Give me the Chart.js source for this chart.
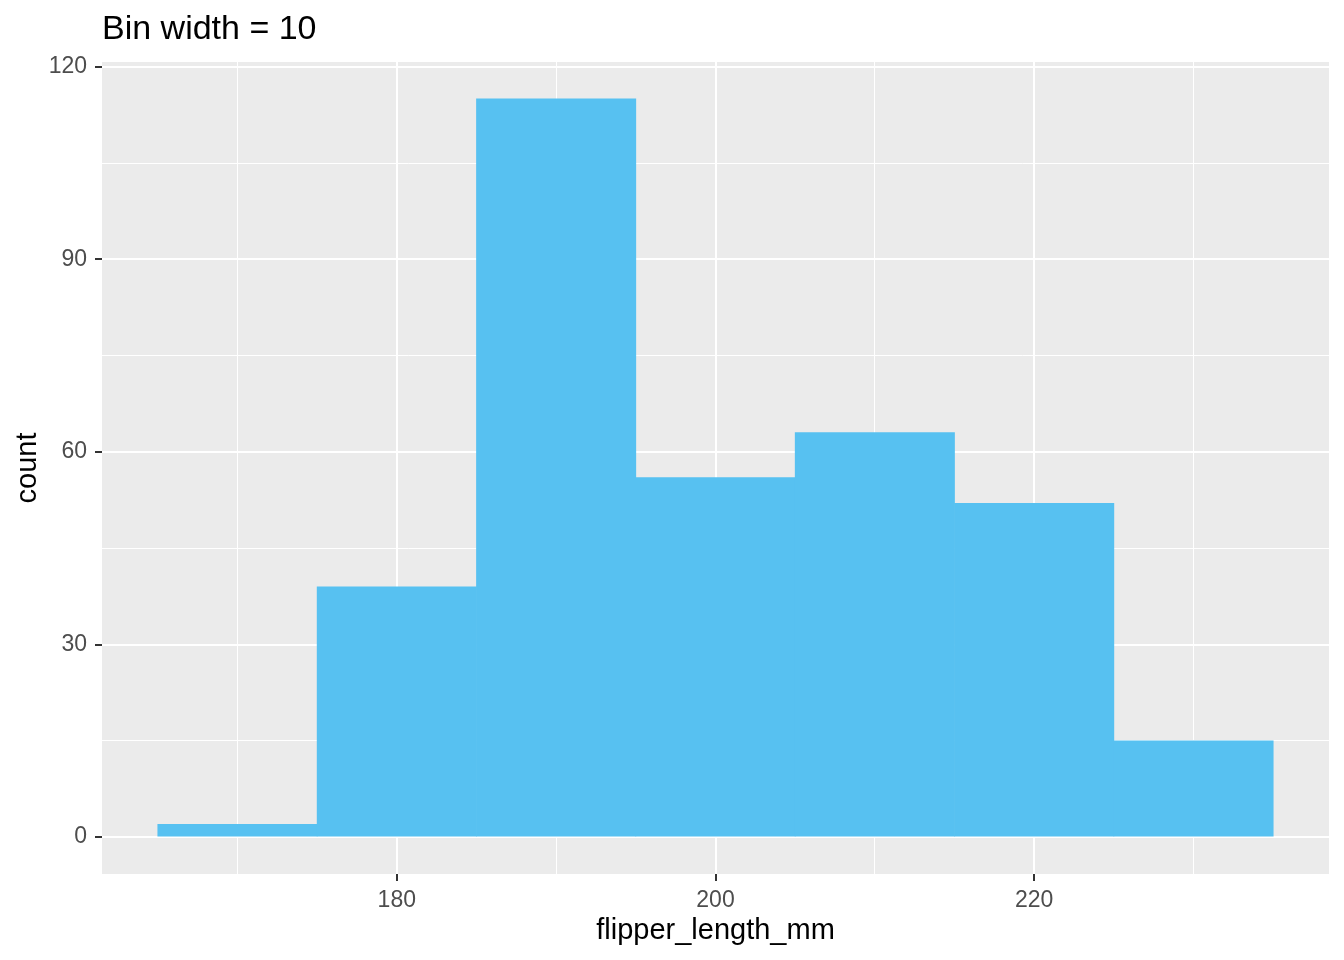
<!DOCTYPE html>
<html>
<head>
<meta charset="utf-8">
<script src="https://cdn.jsdelivr.net/npm/chart.js@4/dist/chart.umd.min.js"></script>
<style>
html,body{margin:0;padding:0;background:#fff;}
canvas{display:block;}
</style>
</head>
<body>
<canvas id="c" width="1344" height="960"></canvas>
<script>
const binCenters = [170, 180, 190, 200, 210, 220, 230];
const counts = [2, 39, 115, 56, 63, 52, 15];
const xMajorTicks = [180, 200, 220];
const xMinorTicks = [170, 190, 210, 230];
const yMajorTicks = [0, 30, 60, 90, 120];
const yMinorTicks = [15, 45, 75, 105];
const titleText = 'Bin width = 10';
const xTitle = 'flipper_length_mm';
const yTitle = 'count';

const FONT = "'Liberation Sans', Arial, sans-serif";
const isMajorX = v => xMajorTicks.includes(v);
const isMajorY = v => yMajorTicks.includes(v);
const tv = c => (c && c.tick) ? c.tick.value : null;

const panelBg = {
  id: 'panelBg',
  beforeDraw(chart) {
    const {ctx, chartArea: a} = chart;
    ctx.save();
    ctx.fillStyle = '#ffffff';
    ctx.fillRect(0, 0, chart.width, chart.height);
    ctx.fillStyle = '#EBEBEB';
    ctx.fillRect(a.left, a.top, a.right - a.left, a.bottom - a.top);
    ctx.restore();
  }
};

new Chart(document.getElementById('c'), {
  type: 'bar',
  data: {
    datasets: [{
      data: binCenters.map((x, i) => ({x: x, y: counts[i]})),
      backgroundColor: '#57C1F1',
      borderWidth: 0,
      barPercentage: 1,
      categoryPercentage: 1,
      grouped: false
    }]
  },
  options: {
    responsive: false,
    devicePixelRatio: 1,
    animation: false,
    layout: {padding: {top: 0, right: 15, left: 0, bottom: 0}},
    plugins: {
      legend: {display: false},
      tooltip: {enabled: false},
      title: {
        display: true,
        text: titleText,
        align: 'start',
        fullSize: false,
        color: '#000000',
        font: {family: FONT, size: 34, weight: 'normal'},
        padding: {top: 9, bottom: 12.2}
      }
    },
    scales: {
      x: {
        type: 'linear',
        offset: false,
        min: 161.5,
        max: 238.5,
        afterBuildTicks: s => { s.ticks = xMajorTicks.concat(xMinorTicks).sort((a,b)=>a-b).map(v => ({value: v})); },
        afterFit: s => { s.height = 86; },
        border: {display: false},
        grid: {
          offset: false,
          color: '#ffffff',
          lineWidth: c => isMajorX(tv(c)) ? 2 : 1,
          tickColor: c => isMajorX(tv(c)) ? '#333333' : 'rgba(0,0,0,0)',
          tickWidth: 2,
          tickLength: 7
        },
        ticks: {
          autoSkip: false,
          maxRotation: 0,
          padding: 6,
          color: '#4D4D4D',
          font: {family: FONT, size: 23},
          callback: v => isMajorX(v) ? String(v) : ''
        },
        title: {
          display: true,
          text: xTitle,
          color: '#000000',
          font: {family: FONT, size: 29},
          padding: {top: 0, bottom: 12}
        }
      },
      y: {
        type: 'linear',
        min: -5.75,
        max: 120.75,
        afterBuildTicks: s => { s.ticks = yMajorTicks.concat(yMinorTicks).sort((a,b)=>a-b).map(v => ({value: v})); },
        afterFit: s => { s.width = 102; },
        border: {display: false},
        grid: {
          color: '#ffffff',
          lineWidth: c => isMajorY(tv(c)) ? 2 : 1,
          tickColor: c => isMajorY(tv(c)) ? '#333333' : 'rgba(0,0,0,0)',
          tickWidth: 2,
          tickLength: 7
        },
        ticks: {
          autoSkip: false,
          padding: 8,
          color: '#4D4D4D',
          font: {family: FONT, size: 23},
          callback: v => isMajorY(v) ? String(v) : ''
        },
        title: {
          display: true,
          text: yTitle,
          color: '#000000',
          font: {family: FONT, size: 29},
          padding: {top: 11, bottom: 0}
        }
      }
    }
  },
  plugins: [panelBg]
});
</script>
</body>
</html>
